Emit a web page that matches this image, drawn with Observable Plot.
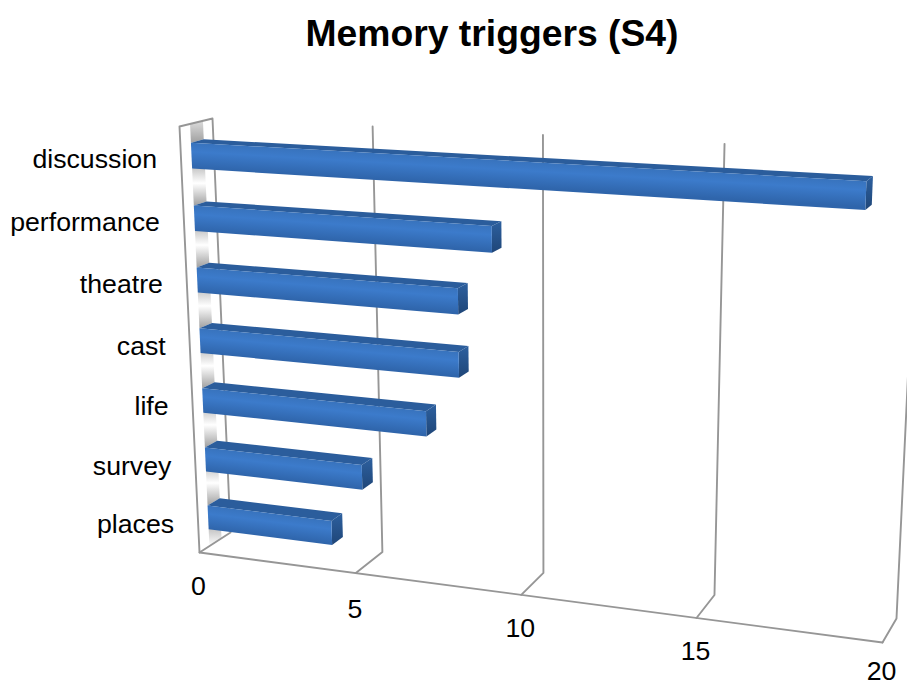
<!DOCTYPE html>
<html>
<head>
<meta charset="utf-8">
<script src="https://cdn.jsdelivr.net/npm/d3@7"></script>
<script src="https://cdn.jsdelivr.net/npm/@observablehq/plot@0.6"></script>
<style>
html,body{margin:0;padding:0;background:#fff;overflow:hidden}
#title{height:76px;box-sizing:border-box;padding:11px 0 0 77px;text-align:center;font:bold 37.3px/44px "Liberation Sans",Arial,sans-serif;color:#000;width:907px}
svg{display:block;overflow:hidden}
</style>
</head>
<body>
<div id="title">Memory triggers (S4)</div>
<div id="chart"></div>
<script>
const categories = ["discussion","performance","theatre","cast","life","survey","places"];
const values = [19,9,8,8,7,5,4];
const ticks = [0,5,10,15,20];
const maxValue = 20;

// perspective frame of the 3D chart box (front and back planes)
const frontPlane = [[199,552],[882,642],[902,166],[179,126]];
const backPlane  = [[230,532],[896,618],[918,153],[212,118]];
const barDepth = [0.32,0.71];
const barThickness = 0.41;
const headerH = 76;
const tickLabelDrop = [34,36,34,33,29];

function homography(q){
  const [[x0,y0],[x1,y1],[x2,y2],[x3,y3]] = q;
  const dx1=x1-x2,dx2=x3-x2,sx=x0-x1+x2-x3,dy1=y1-y2,dy2=y3-y2,sy=y0-y1+y2-y3;
  const den=dx1*dy2-dx2*dy1;
  const g=(sx*dy2-dx2*sy)/den,h=(dx1*sy-sx*dy1)/den;
  const a=x1-x0+g*x1,b=x3-x0+h*x3,d=y1-y0+g*y1,e=y3-y0+h*y3;
  return (u,v)=>{const w=g*u+h*v+1;return [(a*u+b*v+x0)/w,(d*u+e*v+y0)/w];};
}
const hF=homography(frontPlane),hB=homography(backPlane);
const n=categories.length;
// value on the value axis, rank counted from the floor, depth 0 (front) to 1 (back)
function P(value,rank,depth){
  const u=value/maxValue,v=rank/n;
  const f=hF(u,v),b=hB(u,v);
  return [f[0]+(b[0]-f[0])*depth,f[1]+(b[1]-f[1])*depth];
}
function rows(id,pts){return pts.map(([x,y])=>({id,x,y}));}
const opt=(o)=>({x:"x",y:"y",z:"id",...o});
const closed=(o)=>opt({curve:"linear-closed",stroke:"none",...o});

const [d0,d1]=barDepth;
const marks=[];

// grey bands on the side wall, behind the bars
const bandEdges=[];
bandEdges.push([n,n-0.5+barThickness/2]);
for(let i=0;i<n-1;i++){const r=n-1-i;bandEdges.push([r+0.5-barThickness/2,r-0.5+barThickness/2]);}
bandEdges.push([0.5-barThickness/2,0]);
bandEdges.forEach(([a,b],i)=>{
  marks.push(Plot.line(rows("band"+i,[P(0,a,d0),P(0,a,d1),P(0,b,d1),P(0,b,d0)]),
    closed({fill:i===0?"url(#bandTop)":i===n?"url(#bandEnd)":"url(#band)"})));
});

// wall outline, gridlines, floor edge
const gridColor="#969696";
marks.push(Plot.line(rows("wall",[P(0,0,0),P(0,0,1),P(0,n,1),P(0,n,0)]),
  opt({stroke:gridColor,strokeWidth:1.9,curve:"linear-closed"})));
ticks.slice(1).forEach(t=>{
  marks.push(Plot.line(rows("g"+t,[P(t,0,0),P(t,0,1),P(t,n,1)]),
    opt({stroke:gridColor,strokeWidth:1.9})));
});
marks.push(Plot.line(rows("floor",[P(0,0,0),P(maxValue,0,0)]),
  opt({stroke:gridColor,strokeWidth:1.9})));

// bars
const gradients=[];
categories.forEach((c,i)=>{
  const r=n-1-i, lo=r+0.5-barThickness/2, hi=r+0.5+barThickness/2, val=values[i];
  const ftl=P(0,hi,d0),ftr=P(val,hi,d0),fbr=P(val,lo,d0),fbl=P(0,lo,d0);
  const btl=P(0,hi,d1),btr=P(val,hi,d1),bbr=P(val,lo,d1);
  marks.push(Plot.line(rows("top"+i,[ftl,btl,btr,ftr]),closed({fill:"#2b5d9c"})));
  marks.push(Plot.line(rows("end"+i,[ftr,btr,bbr,fbr]),closed({fill:"url(#barEnd)"})));
  marks.push(Plot.line(rows("front"+i,[ftl,ftr,fbr,fbl]),closed({fill:`url(#bar${i})`})));
  const ex=ftr[0]-ftl[0],ey=ftr[1]-ftl[1],L=Math.hypot(ex,ey),nx=-ey/L,ny=ex/L;
  const t=(fbl[0]-ftl[0])*nx+(fbl[1]-ftl[1])*ny;
  gradients.push({id:`bar${i}`,x1:ftl[0],y1:ftl[1],x2:ftl[0]+nx*t,y2:ftl[1]+ny*t});
});

// labels
const font={fontFamily:"'Liberation Sans',Arial,sans-serif",fontSize:26.7,fill:"#000"};
const catRows=categories.map((c,i)=>{const p=P(0,n-1-i+0.5,0);return {label:c,x:p[0],y:p[1]};});
marks.push(Plot.text(catRows,{x:"x",y:"y",text:"label",textAnchor:"end",dx:-24,dy:1,...font}));
const tickRows=ticks.map((t,i)=>{const p=P(t,0,0);return {label:String(t),x:p[0],y:p[1]+tickLabelDrop[i]};});
marks.push(Plot.text(tickRows,{x:"x",y:"y",text:"label",textAnchor:"middle",dx:-1,...font}));

// gradient definitions
marks.unshift(()=>{
  const ns="http://www.w3.org/2000/svg";
  const defs=document.createElementNS(ns,"defs");
  function grad(id,attrs,stops){
    const g=document.createElementNS(ns,"linearGradient");
    g.setAttribute("id",id);
    for(const k in attrs)g.setAttribute(k,attrs[k]);
    stops.forEach(([o,c])=>{const s=document.createElementNS(ns,"stop");s.setAttribute("offset",o);s.setAttribute("stop-color",c);g.appendChild(s);});
    defs.appendChild(g);
  }
  gradients.forEach(g=>grad(g.id,{gradientUnits:"userSpaceOnUse",x1:g.x1,y1:g.y1-headerH,x2:g.x2,y2:g.y2-headerH},
    [[0,"#3873bd"],[0.35,"#3c7bcb"],[1,"#2f65ab"]]));
  grad("barEnd",{x1:0,y1:0,x2:0,y2:1},[[0,"#2d609f"],[1,"#1f4678"]]);
  grad("band",{x1:0,y1:0,x2:0,y2:1},[[0,"#bcbcbc"],[0.45,"#ffffff"],[1,"#a0a0a0"]]);
  grad("bandTop",{x1:0,y1:0,x2:0,y2:1},[[0,"#dcdcdc"],[1,"#a0a0a0"]]);
  grad("bandEnd",{x1:0,y1:0,x2:0,y2:1},[[0,"#acacac"],[1,"#ffffff"]]);
  return defs;
});

const chart=Plot.plot({
  width:907,height:610,
  marginTop:0,marginRight:0,marginBottom:0,marginLeft:0,
  x:{domain:[0,907],range:[0,907],axis:null},
  y:{domain:[headerH,686],range:[0,610],axis:null},
  style:{background:"#fff"},
  marks
});
document.getElementById("chart").appendChild(chart);
</script>
</body>
</html>
